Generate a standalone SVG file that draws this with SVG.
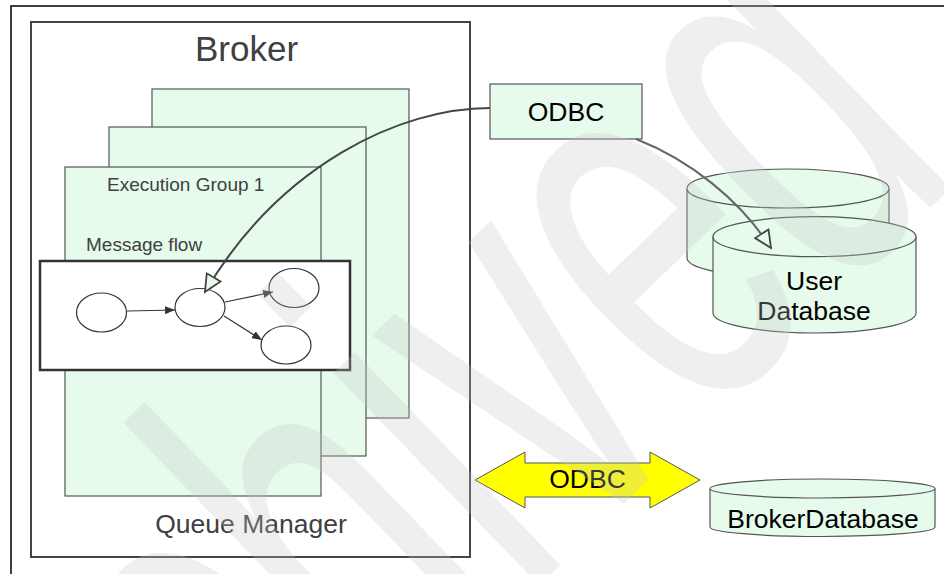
<svg xmlns="http://www.w3.org/2000/svg" width="944" height="574" viewBox="0 0 944 574">
  <style>
    .title { font-family: "Liberation Sans", Arial, sans-serif; fill: #404040; }
    .label { font-family: "Liberation Sans", Arial, sans-serif; fill: #000; }
    .group { fill: #e6fbeb; stroke: #555; stroke-width: 1.2; }
    .db { fill: #e6fbeb; stroke: #555; stroke-width: 1.2; }
    .node { fill: #fff; stroke: #333; stroke-width: 1.2; }
    .flow { fill: none; stroke: #333; stroke-width: 1.2; marker-end: url(#solid); }
    .link { fill: none; stroke-width: 2; marker-end: url(#hollow); }
  </style>
  <defs>
    <marker id="solid" viewBox="0 0 10 8" refX="10" refY="4" markerWidth="10" markerHeight="8" markerUnits="userSpaceOnUse" orient="auto">
      <path d="M0,0 L10,4 L0,8 Z" fill="#333"/>
    </marker>
    <marker id="hollow" viewBox="-1 -1 20 18" refX="17" refY="8" markerWidth="20" markerHeight="18" markerUnits="userSpaceOnUse" orient="auto">
      <path d="M0,0 L17,8 L0,16 Z" fill="#e6fbeb" stroke="#444" stroke-width="1.8" stroke-linejoin="miter"/>
    </marker>
  </defs>

  <rect width="944" height="574" fill="#fff"/>
  <!-- page frame -->
  <path d="M11,574 L11,6 L944,6" fill="none" stroke="#000" stroke-width="1.5"/>

  <!-- broker container -->
  <g id="broker">
    <rect x="31" y="22" width="439" height="535" fill="#fff" stroke="#444" stroke-width="2"/>
    <text class="title" x="246.5" y="61" font-size="35" text-anchor="middle">Broker</text>
    <text class="title" x="251" y="533" font-size="26.5" text-anchor="middle">Queue Manager</text>
  </g>

  <!-- stacked execution groups -->
  <g id="exec-group-3"><rect class="group" x="152" y="89" width="257" height="329"/></g>
  <g id="exec-group-2"><rect class="group" x="109" y="127" width="257" height="329"/></g>
  <g id="exec-group-1">
    <rect class="group" x="65" y="167" width="256" height="329"/>
    <text class="title" x="107" y="190.5" font-size="19">Execution Group 1</text>
    <text class="title" x="86" y="250.5" font-size="19">Message flow</text>
  </g>

  <!-- message flow -->
  <g id="message-flow">
    <rect x="40" y="261" width="310" height="109" fill="#fff" stroke="#333" stroke-width="2.5"/>
  </g>
  <g id="node-in"><ellipse class="node" cx="101.5" cy="312.5" rx="25" ry="19.5"/></g>
  <g id="node-compute"><ellipse class="node" cx="200" cy="307.5" rx="25" ry="19"/></g>
  <g id="node-out1"><ellipse class="node" cx="294" cy="288" rx="25" ry="19.5"/></g>
  <g id="node-out2"><ellipse class="node" cx="286" cy="345" rx="25" ry="19"/></g>

  <!-- ODBC driver box -->
  <g id="odbc">
    <rect x="490" y="84" width="152" height="55" fill="#e6fbeb" stroke="#555" stroke-width="1.2"/>
    <text class="label" x="566" y="121" font-size="26.5" text-anchor="middle">ODBC</text>
  </g>

  <!-- user database (two stacked cylinders) -->
  <g id="user-db">
    <path class="db" d="M687,188.5 A101,19.5 0 0 1 889,188.5 L889,258 A101,19.5 0 0 1 687,258 Z"/>
    <path class="db" fill="none" d="M687,188.5 A101,19.5 0 0 0 889,188.5"/>
    <path class="db" d="M713,236.7 A101.5,20 0 0 1 916,236.7 L916,313 A101.5,20 0 0 1 713,313 Z"/>
    <path class="db" d="M713,236.7 A101.5,20 0 0 0 916,236.7"/>
    <text class="label" x="814" y="290" font-size="26.5" text-anchor="middle">User</text>
    <text class="label" x="814" y="320" font-size="26.5" text-anchor="middle">Database</text>
  </g>

  <!-- broker database -->
  <g id="broker-db">
    <path class="db" d="M710,488.5 A112.5,9.5 0 0 1 935,488.5 L935,527 A112.5,9.5 0 0 1 710,527 Z"/>
    <path class="db" d="M710,488.5 A112.5,9.5 0 0 0 935,488.5"/>
    <text class="label" x="823" y="528" font-size="26.5" text-anchor="middle">BrokerDatabase</text>
  </g>

  <!-- ODBC link between broker and its database -->
  <g id="odbc-link">
    <path d="M475,480 L525,452 L525,463 L650,463 L650,452 L700,480 L650,508 L650,497 L525,497 L525,508 Z" fill="#ffff00" stroke="#555" stroke-width="1"/>
    <text class="label" x="587.5" y="488" font-size="26.5" text-anchor="middle">ODBC</text>
  </g>

  <!-- connectors -->
  <g id="connectors">
    <path class="flow" d="M127,311 L175,310"/>
    <path class="flow" d="M225,302 L273,292"/>
    <path class="flow" d="M224,316 L262,340"/>
    <path class="link" stroke="#444" d="M490,108 C400,108 280,165 205,292"/>
    <path class="link" stroke="#666" d="M636,139 C690,160 740,200 771,248"/>
  </g>

  <!-- archive watermark (condensed, diagonal) -->
  <text x="0" y="0" transform="translate(26,1081) rotate(-44) scale(0.6,1)" font-family="Liberation Sans, Arial, sans-serif" font-size="560" fill="#c4c4c4" fill-opacity="0.28">Archived</text>
</svg>
